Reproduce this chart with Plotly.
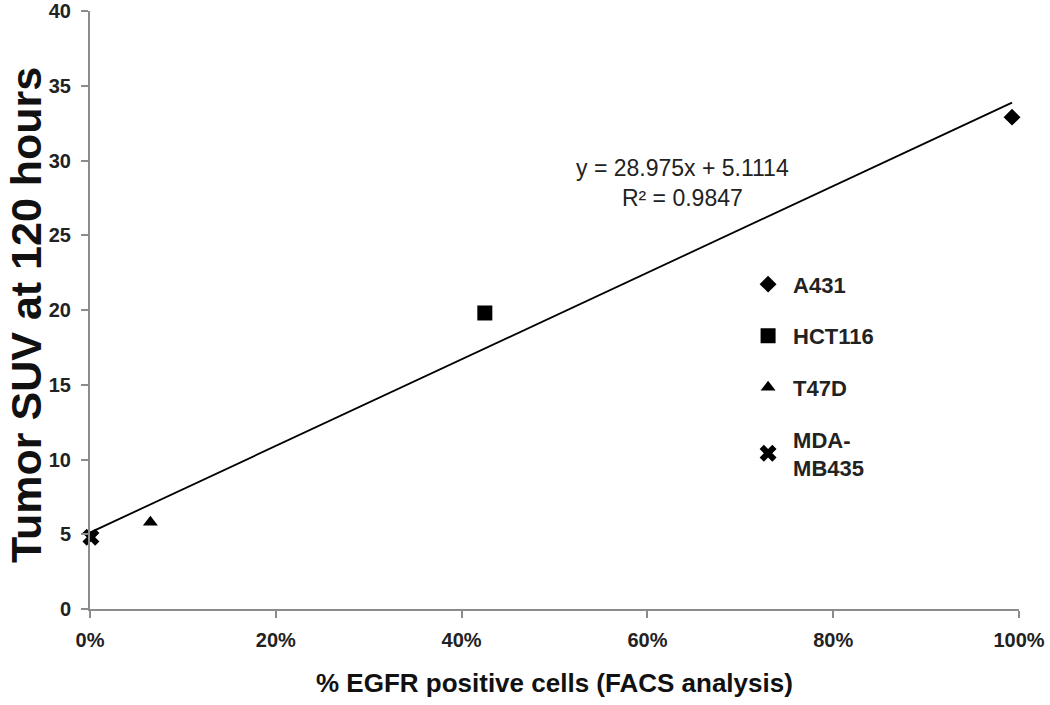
import plotly.graph_objects as go

cell_lines = ["A431", "HCT116", "T47D", "MDA-<br>MB435"]
egfr_pct = [0.9925, 0.425, 0.065, 0.001]
tumor_suv = [32.9, 19.8, 5.8, 4.8]
symbols = ["diamond", "square", "triangle-up", "x"]
sizes = [13, 15, 13, 15]

slope = 28.975
intercept = 5.1114
fit_x = [0.0, 0.9925]
fit_y = [intercept + slope * v for v in fit_x]

x_ticks = [0, 0.2, 0.4, 0.6, 0.8, 1.0]
x_tick_labels = ["0%", "20%", "40%", "60%", "80%", "100%"]
y_ticks = [0, 5, 10, 15, 20, 25, 30, 35, 40]

x_title = "% EGFR positive cells (FACS analysis)"
y_title = "Tumor SUV at 120 hours"

FONT = "Arial, Liberation Sans"

fig = go.Figure()
fig.add_trace(go.Scatter(x=fit_x, y=fit_y, mode="lines",
                         line=dict(color="black", width=1.8),
                         showlegend=False, hoverinfo="skip"))
for i, name in enumerate(cell_lines):
    fig.add_trace(go.Scatter(
        x=[egfr_pct[i]], y=[tumor_suv[i]], mode="markers",
        name="<b>" + name + "</b>", legendgroup=name,
        marker=dict(symbol=symbols[i], size=sizes[i], color="black",
                    line=dict(width=0)),
        cliponaxis=False))

fig.add_annotation(x=0.638, y=28.5, xref="x", yref="y",
                   text="y = 28.975x + 5.1114<br>R² = 0.9847",
                   showarrow=False, align="center",
                   font=dict(family=FONT, size=23, color="#222"))

# axis titles
fig.add_annotation(x=0.5, y=0, xref="paper", yref="paper",
                   xanchor="center", yanchor="middle", yshift=-74,
                   text="<b>" + x_title + "</b>", showarrow=False,
                   font=dict(family=FONT, size=26, color="#111"))
fig.add_annotation(x=0, y=0.5, xref="paper", yref="paper",
                   xanchor="center", yanchor="middle", xshift=-64, yshift=-5,
                   textangle=-90,
                   text="<b>" + y_title + "</b>", showarrow=False,
                   font=dict(family=FONT, size=43, color="#111"))

axis_common = dict(showgrid=False, zeroline=False, showline=True,
                   linecolor="#8c8c8c", linewidth=2, ticks="outside",
                   ticklen=7, tickcolor="#8c8c8c", tickwidth=2,
                   automargin=False, ticklabeloverflow="allow",
                   tickfont=dict(family=FONT, size=20, color="#222", weight="bold"))

fig.update_layout(
    width=1050, height=705,
    margin=dict(l=90, r=31, t=11, b=96),
    plot_bgcolor="white", paper_bgcolor="white",
    font=dict(family=FONT, color="black"),
    xaxis=dict(range=[0, 1], tickvals=x_ticks, ticktext=x_tick_labels,
               ticklabelstandoff=5, **axis_common),
    yaxis=dict(range=[0, 40], tickvals=y_ticks, ticklabelstandoff=6,
               **axis_common),
    legend=dict(x=0.703, y=0.578, xanchor="left", yanchor="top",
                font=dict(size=22, color="#222", family=FONT),
                tracegroupgap=20, traceorder="grouped", itemwidth=40,
                bgcolor="rgba(0,0,0,0)", itemsizing="trace"),
)

fig.write_html("out.html", config={"displayModeBar": False},
               post_script="document.body.style.margin='0';")
